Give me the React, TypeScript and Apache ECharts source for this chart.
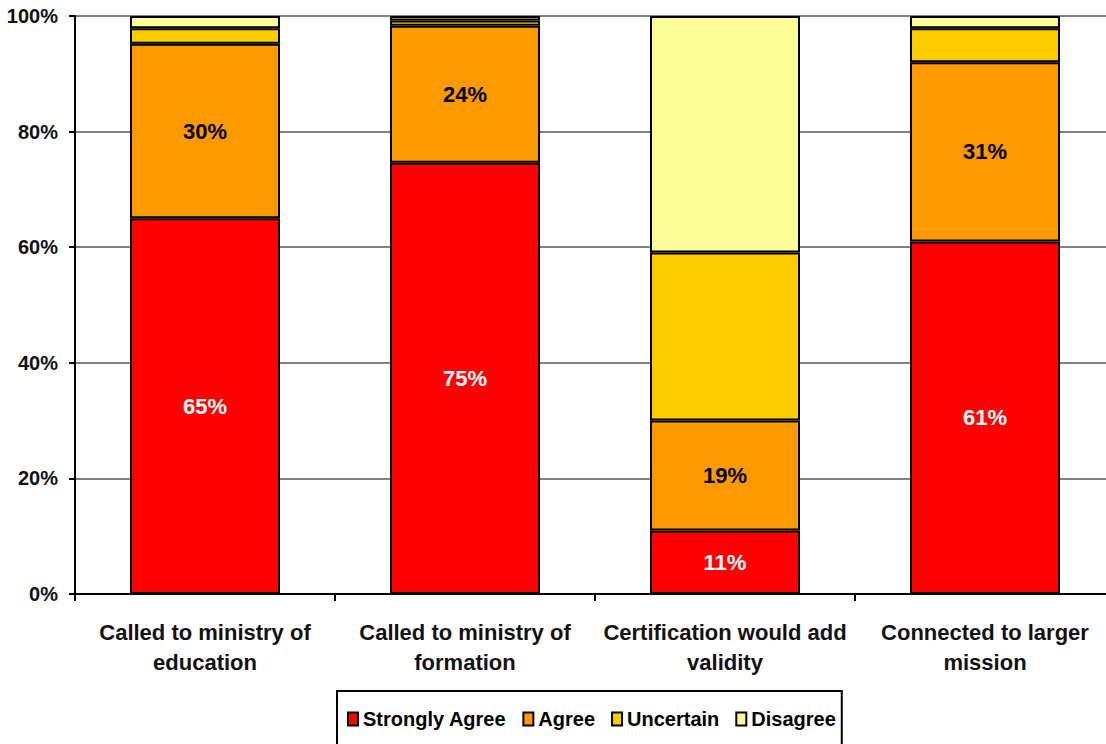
import React, { useEffect, useRef } from "react";
import * as echarts from "echarts";

const categories = [
  "Called to ministry of\neducation",
  "Called to ministry of\nformation",
  "Certification would add\nvalidity",
  "Connected to larger\nmission",
];
const seriesNames = ["Strongly Agree", "Agree", "Uncertain", "Disagree"];
const stronglyAgree = [65, 74.6, 11, 61];
const agree = [30.2, 23.7, 19, 31];
const uncertain = [2.7, 0.9, 29.1, 5.9];
const disagree = [2.1, 0.8, 40.9, 2.1];
const colors = ["#FF0000", "#FF9900", "#FFCC00", "#FFFF99"];
const yTicks = [0, 20, 40, 60, 80, 100];

const FONT = "'Liberation Sans', Arial, sans-serif";

export default function App() {
  const ref = useRef<HTMLDivElement>(null);
  useEffect(() => {
    if (!ref.current) return;
    const chart = echarts.init(ref.current, undefined, { renderer: "svg" });
    const values = [stronglyAgree, agree, uncertain, disagree];
    const labelColors = ["#ffffff", "#000000", null, null];
    chart.setOption({
      animation: false,
      backgroundColor: "#ffffff",
      textStyle: { fontFamily: FONT },
      grid: { left: 75, right: 5, top: 16, bottom: 150, containLabel: false },
      legend: {
        data: seriesNames,
        left: 337,
        top: 691,
        orient: "horizontal",
        borderColor: "#000",
        borderWidth: 2,
        padding: [18, 6, 40, 10],
        itemWidth: 10,
        itemHeight: 13,
        itemGap: 16,
        icon: "rect",
        textStyle: {
          fontFamily: FONT,
          fontWeight: "bold",
          fontSize: 20,
          color: "#000",
        },
      },
      xAxis: {
        type: "category",
        data: categories,
        axisLine: { show: true, lineStyle: { color: "#000", width: 2 } },
        axisTick: { show: true, length: 7, lineStyle: { color: "#000", width: 2 } },
        axisLabel: {
          fontFamily: FONT,
          fontWeight: "bold",
          fontSize: 22,
          color: "#111",
          lineHeight: 30,
          margin: 23,
          interval: 0,
        },
      },
      yAxis: {
        type: "value",
        min: yTicks[0],
        max: yTicks[yTicks.length - 1],
        interval: 20,
        axisLine: { show: true, lineStyle: { color: "#000", width: 2 } },
        axisTick: { show: true, length: 6, lineStyle: { color: "#000", width: 2 } },
        splitLine: { show: true, lineStyle: { color: "#808080", width: 2 } },
        axisLabel: {
          formatter: "{value}%",
          fontFamily: FONT,
          fontWeight: "bold",
          fontSize: 20,
          color: "#111",
          margin: 17,
        },
      },
      series: seriesNames.map((name, i) => ({
        name,
        type: "bar",
        stack: "total",
        barWidth: 150,
        data: values[i],
        itemStyle: { color: colors[i], borderColor: "#000", borderWidth: 2 },
        label: labelColors[i]
          ? {
              show: true,
              position: "inside",
              formatter: (p: any) => Math.round(p.value) + "%",
              fontFamily: FONT,
              fontWeight: "bold",
              fontSize: 22,
              color: labelColors[i],
            }
          : { show: false },
        emphasis: { disabled: true },
      })),
    });
    return () => chart.dispose();
  }, []);
  return (
    <div
      style={{
        position: "fixed",
        left: 0,
        top: 0,
        width: 1106,
        height: 744,
        overflow: "hidden",
        background: "#fff",
      }}
    >
      <div ref={ref} style={{ width: 1120, height: 744 }} />
    </div>
  );
}
